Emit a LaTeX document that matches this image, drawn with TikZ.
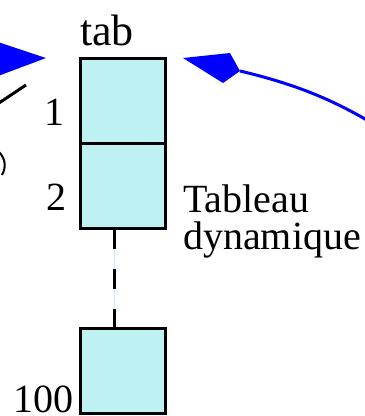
\documentclass[tikz,border=0pt]{standalone}
\usepackage{fontspec}
\setmainfont{Liberation Serif}
\usetikzlibrary{positioning}

\definecolor{cellfill}{RGB}{190,242,242}

\tikzset{
  cell/.style={draw, line width=3pt, fill=cellfill, minimum width=85pt,
    minimum height=85pt, inner sep=0pt, outer sep=0pt},
  idx/.style={inner sep=0pt, anchor=base east},
  ptr/.style={blue, line width=3pt}
}

\begin{document}
\begin{tikzpicture}[x=1pt, y=-1pt, font=\fontsize{40}{37}\selectfont]
  \useasboundingbox (0,0) rectangle (365,416);
  \clip (0,0) rectangle (365,416);

  % The cells of the array
  \node[cell] (cell1) at (122.5,100.5) {};
  \node[cell, below=0pt of cell1] (cell2) {};
  \node[cell] (cell100) at (122.5,370.5) {};

  % Dashed link between 2 and 100
  \coordinate (top) at ([xshift=-8.5pt]cell2.south);
  \coordinate (bot) at ([xshift=-8.5pt]cell100.north);
  \draw[cellfill, line width=1pt] (top) -- (bot);
  \draw[line width=3pt, dash pattern=on 20.5pt off 20pt] (top) -- (bot);

  % Indices and names
  \node[idx] (i1) at (65,125) {1};
  \node[idx] (i2) at (67,210) {2};
  \node[idx] (i100) at (74,412) {100};
  \node[inner sep=0pt, anchor=base west, font=\fontsize{44}{44}\selectfont]
    (name) at (80,45) {tab};
  \node[inner sep=0pt, anchor=base west, align=left] (desc) at (183,249)
    {Tableau\\dynamique};

  % Pointers coming in
  \coordinate (ltip) at (46,58);
  \fill[blue] (ltip) -- (-2,42) -- (-8,59) -- (-2,76) -- cycle;
  \coordinate (rtip) at (183,58);
  \coordinate (rnotch) at (240,71);
  \draw[ptr] (rnotch) .. controls (295,84) and (335,100) .. (380,128);
  \fill[blue] (rtip) -- (230,53) -- (rnotch) -- (223,83) -- cycle;

  % Other bits at the left edge
  \draw[line width=3pt] (-4,105) -- (26,85);
  \draw[line width=2pt] (-1,152) .. controls (6,159) and (6,168) .. (2,175);
\end{tikzpicture}
\end{document}
